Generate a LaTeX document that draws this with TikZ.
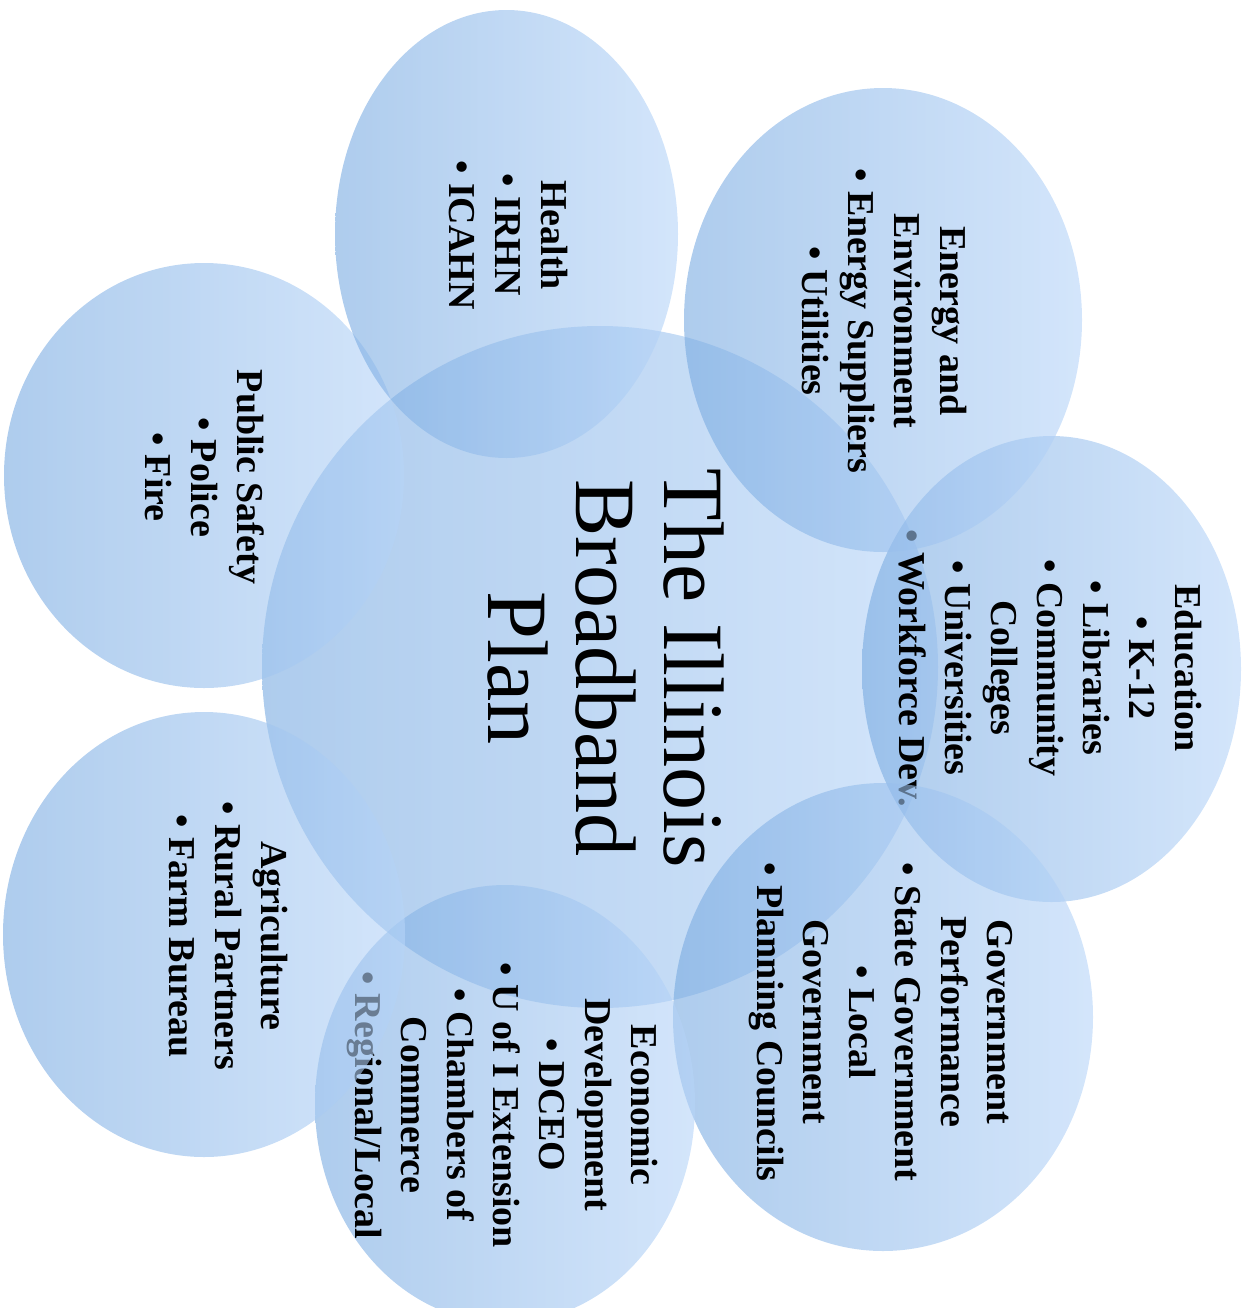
\documentclass[tikz,border=0pt]{standalone}
\usepackage{fontspec}
\setmainfont{Liberation Serif}
\usetikzlibrary{shapes.geometric}
\definecolor{cL}{RGB}{120,170,225}
\definecolor{cR}{RGB}{182,212,248}
\tikzset{
  blob/.style={ellipse, inner sep=0pt, outer sep=0pt, draw=none,
    left color=cL, right color=cR, fill opacity=0.6},
  lbl/.style={rotate=-90, align=center, inner sep=0pt, text=black,
    font=\fontsize{19}{23}\selectfont\bfseries},
  ttl/.style={rotate=-90, align=center, inner sep=0pt, text=black,
    font=\fontsize{43}{44}\selectfont}
}
\begin{document}
\begin{tikzpicture}[x=0.5pt,y=-0.5pt]
\useasboundingbox (0,0) rectangle (1251,1308);
% centre
\node[blob, minimum width=338pt, minimum height=341pt] (ctr) at (600,667) {};
\node[ttl] (ctrT) at (606,668) {The Illinois\\Broadband\\Plan};
% education
\node[blob, minimum width=189.5pt, minimum height=233pt] (edu) at (1051.5,669) {};
\node[lbl] (eduT) at (1050,668) {Education\\• K-12\\• Libraries\\• Community\\Colleges\\• Universities\\• Workforce Dev.};
% government
\node[blob, minimum width=210pt, minimum height=234pt] (gov) at (883,1017) {};
\node[lbl] (govT) at (881,1022) {Government\\Performance\\• State Government\\• Local\\Government\\• Planning Councils};
% economic
\node[blob, minimum width=190pt, minimum height=219pt] (eco) at (505,1104) {};
\node[lbl] (ecoT) at (502,1105) {Economic\\Development\\• DCEO\\• U of I Extension\\• Chambers of\\Commerce\\• Regional/Local};
% agriculture
\node[blob, minimum width=201pt, minimum height=222.5pt] (agr) at (204,934.5) {};
\node[lbl] (agrT) at (228,936) {Agriculture\\• Rural Partners\\• Farm Bureau};
% public safety
\node[blob, minimum width=200pt, minimum height=212.5pt] (pub) at (204,475.5) {};
\node[lbl] (pubT) at (205,477) {Public Safety\\• Police\\• Fire};
% health
\node[blob, minimum width=171.5pt, minimum height=224pt] (hea) at (506.5,234) {};
\node[lbl] (heaT) at (508,235) {Health\\• IRHN\\• ICAHN};
% energy
\node[blob, minimum width=199pt, minimum height=232pt] (ene) at (883,320) {};
\node[lbl] (eneT) at (884,321) {Energy and\\Environment\\• Energy Suppliers\\• Utilities};
\end{tikzpicture}
\end{document}
